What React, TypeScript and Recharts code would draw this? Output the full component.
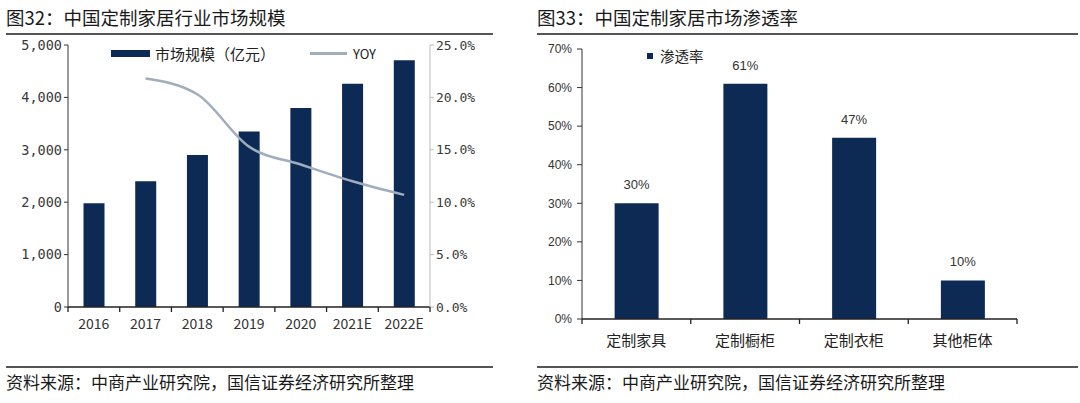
import { ComposedChart, BarChart, Bar, Line, XAxis, YAxis, Legend, LabelList } from 'recharts';

// 图32 数据
const years = ['2016', '2017', '2018', '2019', '2020', '2021E', '2022E'];
const marketSize = [1980, 2400, 2900, 3350, 3800, 4260, 4710];
const yoy: (number | null)[] = [null, 21.8, 20.3, 15.3, 13.6, 12.0, 10.7];
const sizeTicks = [0, 1000, 2000, 3000, 4000, 5000];
const yoyTicks = [0, 5, 10, 15, 20, 25];

// 图33 数据
const segments = ['定制家具', '定制橱柜', '定制衣柜', '其他柜体'];
const penetration = [30, 61, 47, 10];
const rateTicks = [0, 10, 20, 30, 40, 50, 60, 70];

const sizeData = years.map((y, i) => ({ year: y, size: marketSize[i], yoy: yoy[i] }));
const rateData = segments.map((s, i) => ({ name: s, rate: penetration[i] }));

const NAVY = '#0d2a55';
const LINE = '#9fadbe';
const CJK = '"Noto Sans CJK SC", "Noto Sans", sans-serif';

const L_W = 500, L_H = 310, L_YW = 68, L_YRW = 70;
const L_BAND = (L_W - L_YW - L_YRW) / years.length;
const R_W = 540, R_H = 320, R_YW = 52, R_RIGHT = 53;
const R_BAND = (R_W - R_YW - R_RIGHT) / segments.length;

// category tick with boundary tick marks
const makeTick = (band: number, n: number, fontSize: number, family: string, color: string, dy: number) =>
  (props: any) => {
    const { x, y, payload, index } = props;
    const left = x - band / 2;
    return (
      <g>
        <line x1={left} x2={left} y1={y - 8} y2={y - 3} stroke="#222" strokeWidth={1.3} />
        {index === n - 1 && (
          <line x1={left + band} x2={left + band} y1={y - 8} y2={y - 3} stroke="#222" strokeWidth={1.3} />
        )}
        <text x={x} y={y + dy} textAnchor="middle" fontSize={fontSize} fontFamily={family} fill={color}>
          {payload.value}
        </text>
      </g>
    );
  };

const LeftLegend = () => (
  <div style={{ display: 'flex', alignItems: 'center', fontFamily: CJK, color: '#222', whiteSpace: 'nowrap' }}>
    <span style={{ display: 'inline-block', width: 39, height: 7, background: NAVY, marginRight: 5 }} />
    <span style={{ fontSize: 15 }}>市场规模（亿元）</span>
    <span style={{ display: 'inline-block', width: 37, height: 3, background: LINE, marginLeft: 35, marginRight: 6 }} />
    <span style={{ fontSize: 13 }}>YOY</span>
  </div>
);

const RightLegend = () => (
  <div style={{ display: 'flex', alignItems: 'center', fontFamily: CJK, color: '#222', whiteSpace: 'nowrap' }}>
    <span style={{ display: 'inline-block', width: 6, height: 6, background: NAVY, marginRight: 7 }} />
    <span style={{ fontSize: 14.5 }}>渗透率</span>
  </div>
);

const Title = ({ text, left, width }: { text: string; left: number; width: number }) => (
  <>
    <div style={{ position: 'absolute', left, top: 4, fontSize: 18.5, fontFamily: CJK, color: '#1a1a1a', whiteSpace: 'nowrap', lineHeight: '26px' }}>
      {text}
    </div>
    <div style={{ position: 'absolute', left, top: 33, width, height: 1.5, background: '#555' }} />
    <div style={{ position: 'absolute', left, top: 366, width, height: 1.5, background: '#555' }} />
    <div style={{ position: 'absolute', left, top: 371, fontSize: 17, fontFamily: CJK, color: '#1a1a1a', whiteSpace: 'nowrap', lineHeight: '22px' }}>
      资料来源：中商产业研究院，国信证券经济研究所整理
    </div>
  </>
);

const App = () => {
  return (
    <div style={{ position: 'fixed', left: 0, top: 0, width: 1080, height: 403, background: '#fff', overflow: 'hidden' }}>
      <Title text="图32：中国定制家居行业市场规模" left={6} width={487} />
      <Title text="图33：中国定制家居市场渗透率" left={537} width={541} />

      <div style={{ position: 'absolute', left: 0, top: 35 }}>
        <ComposedChart width={L_W} height={L_H} data={sizeData} barCategoryGap="30%" margin={{ top: 10, right: 0, bottom: 8, left: 0 }}>
          <XAxis
            dataKey="year"
            height={30}
            axisLine={{ stroke: '#222', strokeWidth: 1.5 }}
            tickLine={false}
            interval={0}
            tick={makeTick(L_BAND, years.length, 14, CJK, '#333', 14)}
          />
          <YAxis
            yAxisId="left"
            width={L_YW}
            domain={[0, 5000]}
            ticks={sizeTicks}
            tickFormatter={(v: number) => v.toLocaleString('en-US')}
            axisLine={{ stroke: '#333' }}
            tickLine={{ stroke: '#333' }}
            tickSize={4}
            tick={{ fontSize: 13.5, fontFamily: '"DejaVu Sans Mono", monospace', fill: '#3a3a3a' }}
          />
          <YAxis
            yAxisId="right"
            orientation="right"
            width={L_YRW}
            domain={[0, 25]}
            ticks={yoyTicks}
            tickFormatter={(v: number) => `${v.toFixed(1)}%`}
            axisLine={{ stroke: '#bbb' }}
            tickLine={{ stroke: '#bbb' }}
            tickSize={4}
            tick={{ fontSize: 13, fontFamily: '"DejaVu Sans Mono", monospace', fill: '#3a3a3a' }}
          />
          <Legend
            verticalAlign="middle"
            align="center"
            content={() => <LeftLegend />}
            wrapperStyle={{ left: 111, top: 8, width: 'auto' }}
          />
          <Bar yAxisId="left" dataKey="size" fill={NAVY} isAnimationActive={false} />
          <Line yAxisId="right" type="monotone" dataKey="yoy" stroke={LINE} strokeWidth={2.5} dot={false} isAnimationActive={false} />
        </ComposedChart>
      </div>

      <div style={{ position: 'absolute', left: 530, top: 35 }}>
        <BarChart width={R_W} height={R_H} data={rateData} barCategoryGap="30%" margin={{ top: 14, right: R_RIGHT, bottom: 6, left: 0 }}>
          <XAxis
            dataKey="name"
            height={30}
            axisLine={{ stroke: '#222', strokeWidth: 1.5 }}
            tickLine={false}
            interval={0}
            tick={makeTick(R_BAND, segments.length, 15, CJK, '#222', 19)}
          />
          <YAxis
            width={R_YW}
            domain={[0, 70]}
            ticks={rateTicks}
            tickFormatter={(v: number) => `${v}%`}
            axisLine={{ stroke: '#333' }}
            tickLine={{ stroke: '#333' }}
            tickSize={5}
            tickMargin={5}
            tick={{ fontSize: 12, fontFamily: '"Liberation Sans", Arial, sans-serif', fill: '#333' }}
          />
          <Legend
            verticalAlign="middle"
            align="center"
            content={() => <RightLegend />}
            wrapperStyle={{ left: 117, top: 10, width: 'auto' }}
          />
          <Bar dataKey="rate" fill={NAVY} isAnimationActive={false}>
            <LabelList
              dataKey="rate"
              position="top"
              offset={14}
              formatter={(v: any) => `${v}%`}
              style={{ fontSize: 13, fontFamily: '"Liberation Sans", Arial, sans-serif', fill: '#333' }}
            />
          </Bar>
        </BarChart>
      </div>
    </div>
  );
};

export default App;
